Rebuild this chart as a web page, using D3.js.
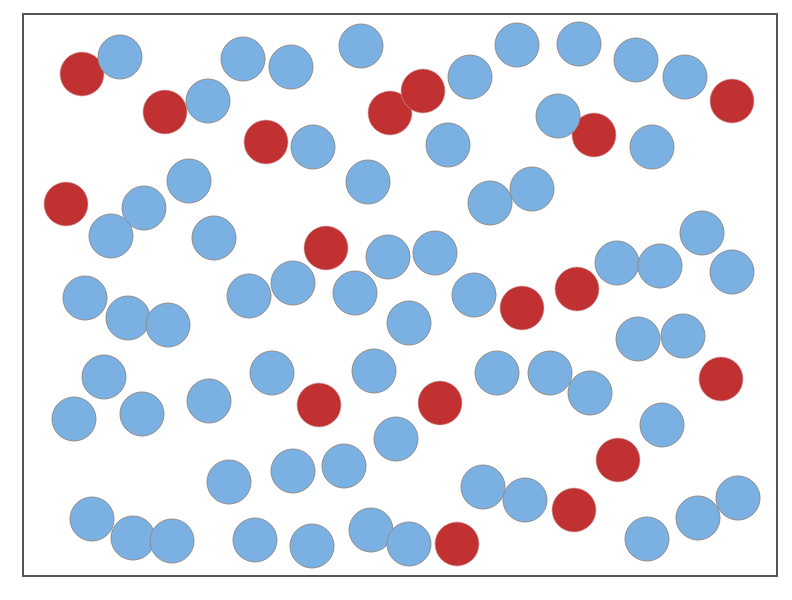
<!DOCTYPE html>
<html><head><meta charset="utf-8">
<script src="https://cdn.jsdelivr.net/npm/d3@7"></script>
<style>body{margin:0;background:#fff}</style>
</head><body>
<svg id="c" width="792" height="600"></svg>
<script>
// values measured relative to the frame's top-left corner
const redX = [59,142,243,367,400,571,709,43,303,499,554,296,417,698,595,551,434];
const redY = [60,98,128,99,77,121,87,190,234,294,275,391,389,365,446,496,530];
const blueX = [97,220,268,338,185,447,494,556,613,662,535,290,425,629,166,345,121,88,467,509,191,365,412,679,62,105,145,226,270,332,386,451,594,637,709,615,660,81,51,119,186,249,351,474,527,567,373,639,206,270,321,460,502,69,110,149,232,289,348,386,624,675,715];
const blueY = [43,45,53,32,87,63,31,30,46,63,102,133,131,133,167,168,194,222,189,175,224,243,239,219,284,304,311,282,269,279,309,281,249,252,258,325,322,363,405,400,387,359,357,359,359,379,425,411,468,457,452,473,486,505,524,527,526,532,516,530,525,504,484];
const groups = ["red","blue"];
const colors = ["#c23131","#7bb1e2"];

(function(){
const svg = d3.select("#c");
const L = 23, T = 14, R = 777, B = 576;
const x = d3.scaleLinear().domain([0, R-L]).range([L, R]);
const y = d3.scaleLinear().domain([0, B-T]).range([T, B]);
const color = d3.scaleOrdinal().domain(groups).range(colors);

const pts = [];
redX.forEach((v,i)=>pts.push({x:v,y:redY[i],g:"red"}));
blueX.forEach((v,i)=>pts.push({x:v,y:blueY[i],g:"blue"}));

svg.append("rect").attr("x",L).attr("y",T).attr("width",R-L).attr("height",B-T)
  .attr("fill","#fff");

svg.selectAll("circle.p").data(pts).join("circle").attr("class","p")
  .attr("cx",d=>x(d.x)).attr("cy",d=>y(d.y)).attr("r",22)
  .attr("fill",d=>color(d.g))
  .attr("stroke",d=>d.g==="blue"?"#8c8c8c":"#c9a0a0")
  .attr("stroke-width",d=>d.g==="blue"?1:0.6);

svg.append("rect").attr("x",L).attr("y",T).attr("width",R-L).attr("height",B-T)
  .attr("fill","none").attr("stroke","#555").attr("stroke-width",2);
})();
</script>
</body></html>
